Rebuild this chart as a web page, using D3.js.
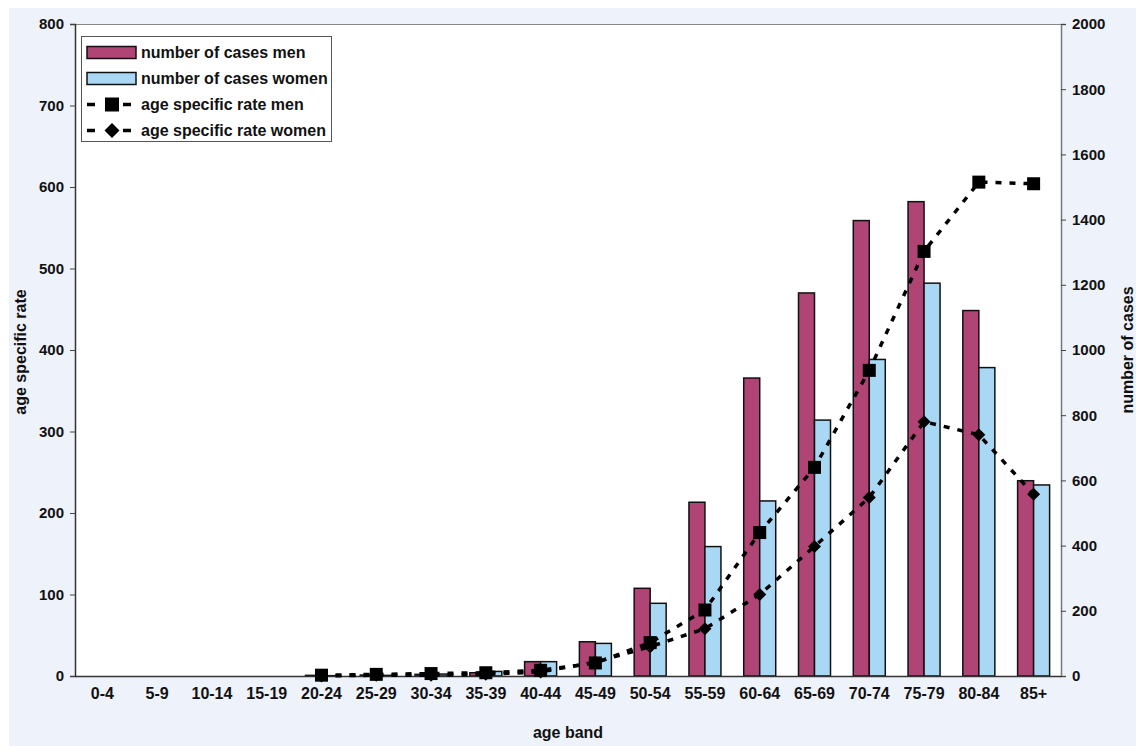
<!DOCTYPE html>
<html><head><meta charset="utf-8">
<script src="https://cdn.jsdelivr.net/npm/d3@7/dist/d3.min.js"></script>
<style>body{margin:0;background:#fff;}svg{display:block;font-family:"Liberation Sans",Arial,sans-serif;}</style>
</head><body>
<script>
const categories = ["0-4","5-9","10-14","15-19","20-24","25-29","30-34","35-39","40-44","45-49","50-54","55-59","60-64","65-69","70-74","75-79","80-84","85+"];
const casesMen   = [0,0,0,0,2,3,5,10,44,105,269,533,914,1175,1397,1455,1121,599];
const casesWomen = [0,0,0,0,1,2,6,14,44,100,223,397,537,785,971,1205,946,586];
const rateMen    = [null,null,null,null,1,2,3,4,7,16,41,81,176,256,375,521,606,604];
const rateWomen  = [null,null,null,null,0,1,1,2,5,17,36,58,100,159,219,312,296,223];
const leftTicks  = [0,100,200,300,400,500,600,700,800];
const rightTicks = [0,200,400,600,800,1000,1200,1400,1600,1800,2000];

const W=1136,H=746;
const m={l:75,r:1061,t:24,b:676};
const svg=d3.select("body").append("svg").attr("width",W).attr("height",H);
svg.append("rect").attr("x",9).attr("y",8).attr("width",W-9).attr("height",H-8).attr("fill","#eef2fb");
svg.append("rect").attr("x",m.l).attr("y",m.t).attr("width",m.r-m.l).attr("height",m.b-m.t).attr("fill","#fff");

const x=d3.scaleBand().domain(categories).range([m.l,m.r]);
const yL=d3.scaleLinear().domain([0,800]).range([m.b,m.t]);
const yR=d3.scaleLinear().domain([0,2000]).range([m.b,m.t]);
const bw=16;
const font="Liberation Sans, Arial, sans-serif";

svg.append("line").attr("x1",m.l).attr("x2",m.r).attr("y1",m.t+0.5).attr("y2",m.t+0.5).attr("stroke","#888");

// bars
const g=svg.append("g");
g.selectAll(".bm").data(categories).join("rect")
 .attr("x",d=>x(d)+x.bandwidth()/2-bw).attr("width",bw)
 .attr("y",(d,i)=>yR(casesMen[i])).attr("height",(d,i)=>m.b-yR(casesMen[i]))
 .attr("fill","#b04474").attr("stroke","#111").attr("stroke-width",1.5)
 .style("display",(d,i)=>casesMen[i]>0?null:"none");
g.selectAll(".bw").data(categories).join("rect")
 .attr("x",d=>x(d)+x.bandwidth()/2).attr("width",bw)
 .attr("y",(d,i)=>yR(casesWomen[i])).attr("height",(d,i)=>m.b-yR(casesWomen[i]))
 .attr("fill","#a9d8f4").attr("stroke","#111").attr("stroke-width",1.5)
 .style("display",(d,i)=>casesWomen[i]>0?null:"none");

// axes
const axL=d3.axisLeft(yL).tickValues(leftTicks).tickSize(5).tickPadding(6).tickFormat(d3.format("d"));
const gL=svg.append("g").attr("transform",`translate(${m.l},0)`).call(axL);
gL.select(".domain").attr("stroke","#333").attr("stroke-width",1.5);
const axR=d3.axisRight(yR).tickValues(rightTicks).tickSize(5).tickPadding(6).tickFormat(d3.format("d"));
const gR=svg.append("g").attr("transform",`translate(${m.r},0)`).call(axR);
gR.select(".domain").attr("stroke","#777").attr("stroke-width",1.5);
[gL,gR].forEach(a=>{a.selectAll(".tick line").attr("stroke","#444");
 a.selectAll("text").attr("font-size",15).attr("font-weight","bold").attr("fill","#111").attr("font-family",font);});
const axB=d3.axisBottom(x).tickSize(0).tickPadding(12);
const gB=svg.append("g").attr("transform",`translate(0,${m.b})`).call(axB);
gB.select(".domain").attr("stroke","#333").attr("stroke-width",1.5);
gB.selectAll("text").attr("font-size",16).attr("font-weight","bold").attr("fill","#111").attr("font-family",font);

// markers
function diamondPath(r){return `M0,${-r}L${r},0L0,${r}L${-r},0Z`;}
function squarePath(r){return `M${-r},${-r}H${r}V${r}H${-r}Z`;}

function drawLine(vals,shapeFn,r){
  const pts=categories.map((c,i)=>({c,v:vals[i]})).filter(p=>p.v!==null);
  const line=d3.line().x(p=>x(p.c)+x.bandwidth()/2).y(p=>yL(p.v));
  svg.append("path").attr("d",line(pts)).attr("fill","none").attr("stroke","#000")
   .attr("stroke-width",3.5).attr("stroke-dasharray","6,8");
  svg.selectAll(null).data(pts).join("path")
   .attr("transform",p=>`translate(${x(p.c)+x.bandwidth()/2},${yL(p.v)})`)
   .attr("d",shapeFn(r)).attr("fill","#000");
}
drawLine(rateWomen,diamondPath,6.5);
drawLine(rateMen,squarePath,6.5);

// titles
const tf={"font-size":16,"font-weight":"bold","fill":"#111","font-family":font};
function txt(t,xx,yy,rot){const e=svg.append("text").text(t).attr("text-anchor","middle")
 .attr("transform",`translate(${xx},${yy})`+(rot?` rotate(${rot})`:""));
 Object.entries(tf).forEach(([k,v])=>e.attr(k,v));return e;}
txt("age band",568,738,0);
txt("age specific rate",26,352,-90);
txt("number of cases",1133,350,-90);

// legend
const lg=svg.append("g");
lg.append("rect").attr("x",81.5).attr("y",36.5).attr("width",250).attr("height",105).attr("fill","#fff").attr("stroke","#555");
const items=[{t:"number of cases men",k:"bar",c:"#b04474"},{t:"number of cases women",k:"bar",c:"#a9d8f4"},
 {t:"age specific rate men",k:"line",s:squarePath,r:7},{t:"age specific rate women",k:"line",s:diamondPath,r:7.5}];
items.forEach((it,i)=>{
  const cy=52.5+i*26;
  if(it.k==="bar"){lg.append("rect").attr("x",87).attr("y",cy-6).attr("width",49).attr("height",12).attr("fill",it.c).attr("stroke","#111").attr("stroke-width",1.5);}
  else{
   lg.append("line").attr("x1",87).attr("x2",95).attr("y1",cy).attr("y2",cy).attr("stroke","#000").attr("stroke-width",3.5);
   lg.append("line").attr("x1",123).attr("x2",131).attr("y1",cy).attr("y2",cy).attr("stroke","#000").attr("stroke-width",3.5);
   lg.append("path").attr("transform",`translate(${112},${cy})`).attr("d",it.s(it.r)).attr("fill","#000");}
  const e=lg.append("text").text(it.t).attr("x",141).attr("y",cy+5.5);
  Object.entries(tf).forEach(([k,v])=>e.attr(k,v));
});
</script>
</body></html>
